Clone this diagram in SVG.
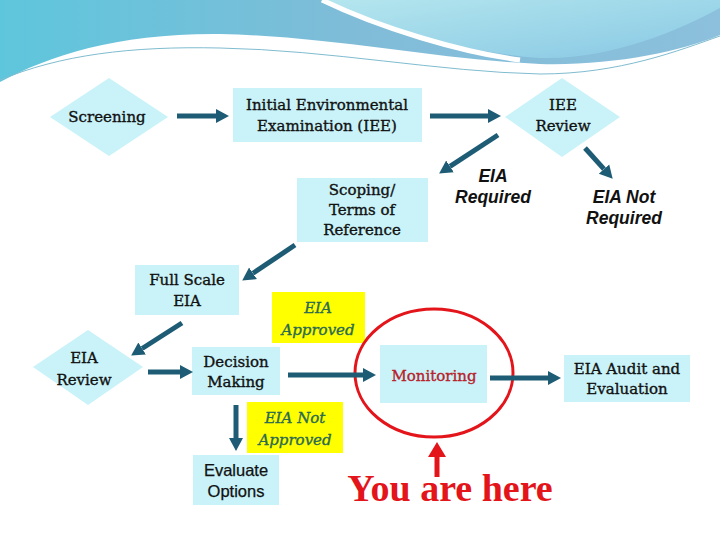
<svg xmlns="http://www.w3.org/2000/svg" width="720" height="540" viewBox="0 0 720 540">
<defs>
<linearGradient id="bg" x1="0" y1="0" x2="1" y2="0">
<stop offset="0" stop-color="#5ec6dc"/><stop offset="0.5" stop-color="#80bcd8"/><stop offset="1" stop-color="#8cc0dc"/>
</linearGradient>
<linearGradient id="bg2" x1="0" y1="0" x2="1" y2="1">
<stop offset="0" stop-color="#b4e6ee"/><stop offset="1" stop-color="#88c8e4"/>
</linearGradient>
<marker id="ah" markerUnits="userSpaceOnUse" markerWidth="14" markerHeight="16" refX="0" refY="8" orient="auto">
<path d="M0,1 L13,8 L0,15 z" fill="#1d5c74"/>
</marker>
<marker id="ahr" markerUnits="userSpaceOnUse" markerWidth="16" markerHeight="18" refX="0" refY="9" orient="auto">
<path d="M0,0 L15,9 L0,18 z" fill="#e3141a"/>
</marker>
<style>
.box{fill:#c9f3f9}
.yel{fill:#ffff00}
.t{font-family:"DejaVu Serif","Liberation Serif",serif;font-size:15px;fill:#111;stroke:#111;stroke-width:0.35;text-anchor:middle}
.s{font-family:"Liberation Sans",Arial,sans-serif;font-size:17.5px;font-weight:bold;font-style:italic;fill:#111;text-anchor:middle}
.g{font-family:"DejaVu Serif","Liberation Serif",serif;font-size:15px;font-style:italic;fill:#2a6a52;stroke:#2a6a52;stroke-width:0.35;text-anchor:middle}
.o{font-family:"Liberation Sans",Arial,sans-serif;font-size:16.5px;fill:#111;stroke:#111;stroke-width:0.25;text-anchor:middle}
.c line{stroke:#1d5c74;stroke-width:5;marker-end:url(#ah)}
</style>
</defs>
<rect width="720" height="540" fill="#fff"/>
<g id="background">
<path d="M0,0 H720 V35 C680,52 610,66 540,64 C440,60 330,36 220,34 C120,33 50,55 0,82 Z" fill="url(#bg)"/>
<path d="M322,0 C380,28 460,52 540,58 C610,60 680,30 720,8 V0 Z" fill="url(#bg2)"/>
<path d="M322,0 C380,28 460,52 520,60" fill="none" stroke="#fff" stroke-width="5"/>
<path d="M0,80 C60,55 130,46 220,48 C330,50 440,72 540,74 C620,74 680,50 720,36" fill="none" stroke="#7fbcd0" stroke-width="1"/>
</g>
<g id="screening"><path class="box" d="M109,78 L168,117 L109,156 L50,117 Z"/><text class="t" x="107" y="122">Screening</text></g>
<g id="iee"><rect class="box" x="233" y="88" width="189" height="54"/><text class="t" x="327" y="110">Initial Environmental</text><text class="t" x="327" y="131">Examination (IEE)</text></g>
<g id="iee-review"><path class="box" d="M562,78 L620,117 L562,157 L505,117 Z"/><text class="t" x="563" y="110">IEE</text><text class="t" x="563" y="131">Review</text></g>
<g id="eia-required"><text class="s" x="493" y="182">EIA</text><text class="s" x="493" y="203">Required</text></g>
<g id="eia-not-required"><text class="s" x="624" y="203">EIA Not</text><text class="s" x="624" y="224">Required</text></g>
<g id="scoping"><rect class="box" x="297" y="178" width="131" height="64"/><text class="t" x="362" y="195">Scoping/</text><text class="t" x="362" y="215">Terms of</text><text class="t" x="362" y="235">Reference</text></g>
<g id="full-scale"><rect class="box" x="135" y="265" width="104" height="50"/><text class="t" x="187" y="285">Full Scale</text><text class="t" x="187" y="306">EIA</text></g>
<g id="eia-approved"><rect class="yel" x="272" y="292" width="93" height="51"/><text class="g" x="318" y="313">EIA</text><text class="g" x="318" y="335">Approved</text></g>
<g id="eia-review"><path class="box" d="M88,330 L143,367 L88,405 L33,367 Z"/><text class="t" x="84" y="363">EIA</text><text class="t" x="84" y="385">Review</text></g>
<g id="decision"><rect class="box" x="192" y="347" width="88" height="48"/><text class="t" x="236" y="367">Decision</text><text class="t" x="236" y="387">Making</text></g>
<g id="monitoring"><rect class="box" x="380" y="345" width="107" height="58"/><text class="t" x="434" y="381" style="fill:#b8202a;stroke:#b8202a">Monitoring</text></g>
<g id="audit"><rect class="box" x="564" y="355" width="126" height="47"/><text class="t" x="627" y="374">EIA Audit and</text><text class="t" x="627" y="394">Evaluation</text></g>
<g id="eia-not-approved"><rect class="yel" x="247" y="402" width="96" height="51"/><text class="g" x="295" y="423">EIA Not</text><text class="g" x="295" y="445">Approved</text></g>
<g id="evaluate"><rect class="box" x="193" y="455" width="86" height="50"/><text class="o" x="236" y="476">Evaluate</text><text class="o" x="236" y="497">Options</text></g>
<g id="you-are-here">
<ellipse cx="434" cy="373" rx="79" ry="64" fill="none" stroke="#e3141a" stroke-width="3"/>
<line x1="437" y1="477" x2="437" y2="457" stroke="#e3141a" stroke-width="5" marker-end="url(#ahr)"/>
<text x="450" y="501" style="font-family:'Liberation Serif',serif;font-size:38px;font-weight:bold;fill:#e3141a;text-anchor:middle">You are here</text>
</g>
<g id="connectors" class="c">
<line x1="177" y1="116" x2="216" y2="116"/>
<line x1="430" y1="116" x2="488" y2="116"/>
<line x1="498" y1="135" x2="450" y2="166.4"/>
<line x1="585" y1="148" x2="604" y2="169.1"/>
<line x1="295" y1="245" x2="253" y2="273.3"/>
<line x1="182" y1="323" x2="142.1" y2="348.5"/>
<line x1="148" y1="372" x2="180" y2="372"/>
<line x1="288" y1="375" x2="363" y2="375"/>
<line x1="490" y1="378" x2="548" y2="378"/>
<line x1="236" y1="405" x2="236" y2="438"/>
</g>
</svg>
